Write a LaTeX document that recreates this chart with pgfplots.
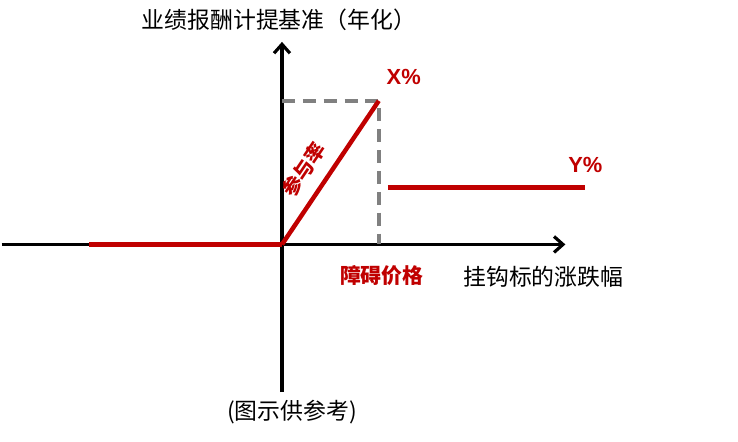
\documentclass[border=0pt]{standalone}
\usepackage{fontspec}
\setmainfont{Liberation Sans}
\newfontfamily\cjk{Noto Sans CJK SC}
\usepackage{pgfplots}
\pgfplotsset{compat=1.18}
\usetikzlibrary{arrows.meta}
\definecolor{myred}{HTML}{C00000}
\definecolor{mygrey}{HTML}{808080}
\begin{document}
\begin{tikzpicture}
\begin{axis}[
  scale only axis, width=738bp, height=442bp,
  xmin=-281, xmax=457, ymin=-197, ymax=245,
  hide axis, clip=false,
]
\path (axis cs:-281,-197) rectangle (axis cs:457,245);
% axes
\addplot[black, line width=3.2pt, -{Straight Barb[length=9pt,width=16pt,line width=3.2pt]}] coordinates {(-281,0) (284,0)};
\addplot[black, line width=3.2pt, -{Straight Barb[length=9pt,width=16pt,line width=3.2pt]}] coordinates {(0,-148) (0,203)};
% dashed
\addplot[mygrey, line width=3.8pt, dash pattern=on 13pt off 8pt] coordinates {(0,144) (97,144) (97,0)};
% red
\addplot[myred, line width=4.5pt] coordinates {(-193,0) (0,0)};
\addplot[myred, line width=4.5pt] coordinates {(0,0) (97,144)};
\addplot[myred, line width=4.5pt] coordinates {(106,57) (304,57)};
% text
\node[font=\cjk\fontsize{23}{26}\selectfont] at (axis cs:-3,225) {业绩报酬计提基准（年化）};
\node[font=\bfseries\fontsize{22}{26}\selectfont, text=myred] at (axis cs:122,168) {X\%};
\node[font=\bfseries\fontsize{22}{26}\selectfont, text=myred] at (axis cs:304,80) {Y\%};
\node[font=\cjk\bfseries\fontsize{21}{24}\selectfont, text=myred] at (axis cs:100,-31) {障碍价格};
\node[font=\cjk\fontsize{23}{26}\selectfont] at (axis cs:262,-32) {挂钩标的涨跌幅};
\node[font=\cjk\fontsize{23}{26}\selectfont] at (axis cs:10,-168) {(图示供参考)};
\node[font=\cjk\bfseries\fontsize{20}{22}\selectfont, text=myred, rotate=56, inner sep=0pt] at (axis cs:22,75) {参与率};
\end{axis}
\end{tikzpicture}
\end{document}
